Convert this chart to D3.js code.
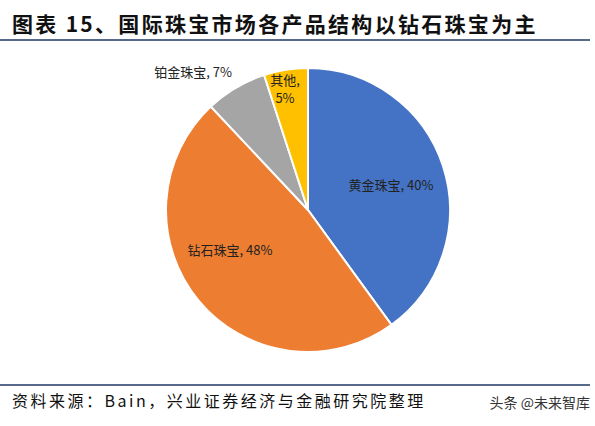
<!DOCTYPE html>
<html><head><meta charset="utf-8">
<script src="https://cdn.jsdelivr.net/npm/d3@7"></script>
<style>body{margin:0;background:#fff}</style>
</head><body>
<svg id="chart" width="595" height="426"></svg>
<script>
// data
var categories = ["黄金珠宝", "钻石珠宝", "铂金珠宝", "其他"];
var shares = [40, 48, 7, 5];
var colors = ["#4472c4", "#ed7d31", "#a5a5a5", "#ffc000"];

var svg = d3.select("#chart");
var cx = 308, cy = 210, r = 142;

svg.append("text").attr("x", 12).attr("y", 32)
  .style("font", "bold 21px 'Noto Sans CJK SC'").style("letter-spacing", "2.3px").attr("fill", "#111")
  .text("图表 15、国际珠宝市场各产品结构以钻石珠宝为主");
svg.append("line").attr("x1", 0).attr("x2", 590).attr("y1", 40).attr("y2", 40)
  .attr("stroke", "#1f3864").attr("stroke-width", 1.5);

var pie = d3.pie().sort(null).value(function(d){ return d; });
var arcs = pie(shares);
var arc = d3.arc().innerRadius(0).outerRadius(r);
var g = svg.append("g").attr("transform", "translate(" + cx + "," + cy + ")");
g.selectAll("path").data(arcs).enter().append("path")
  .attr("d", arc).attr("fill", function(d, i){ return colors[i]; })
  .attr("stroke", "#fff").attr("stroke-width", 2);

var lab = "13px 'Noto Sans CJK SC'";
// label placements
var labelPos = [[83, -20], [-78, 45], [-115, -133], [-23, -125]];
arcs.forEach(function(a, i){
  var t = g.append("text").attr("text-anchor", "middle").style("font", lab).attr("fill", "#222");
  if (i == 3) {
    t.append("tspan").attr("x", labelPos[i][0]).attr("y", labelPos[i][1]).text(categories[i] + ",");
    t.append("tspan").attr("x", labelPos[i][0]).attr("y", labelPos[i][1] + 18).text(shares[i] + "%");
  } else {
    t.attr("x", labelPos[i][0]).attr("y", labelPos[i][1]).text(categories[i] + ", " + shares[i] + "%");
  }
});

svg.append("line").attr("x1", 0).attr("x2", 590).attr("y1", 385).attr("y2", 385)
  .attr("stroke", "#1f3864").attr("stroke-width", 1.5);
svg.append("text").attr("x", 12).attr("y", 407)
  .style("font", "16px 'Noto Sans CJK SC'").style("letter-spacing", "2.5px").attr("fill", "#111")
  .text("资料来源：Bain，兴业证券经济与金融研究院整理");
svg.append("text").attr("x", 590).attr("y", 408).attr("text-anchor", "end")
  .style("font", "14px 'Noto Sans CJK SC'").attr("fill", "#333")
  .text("头条 @未来智库");
</script>
</body></html>
